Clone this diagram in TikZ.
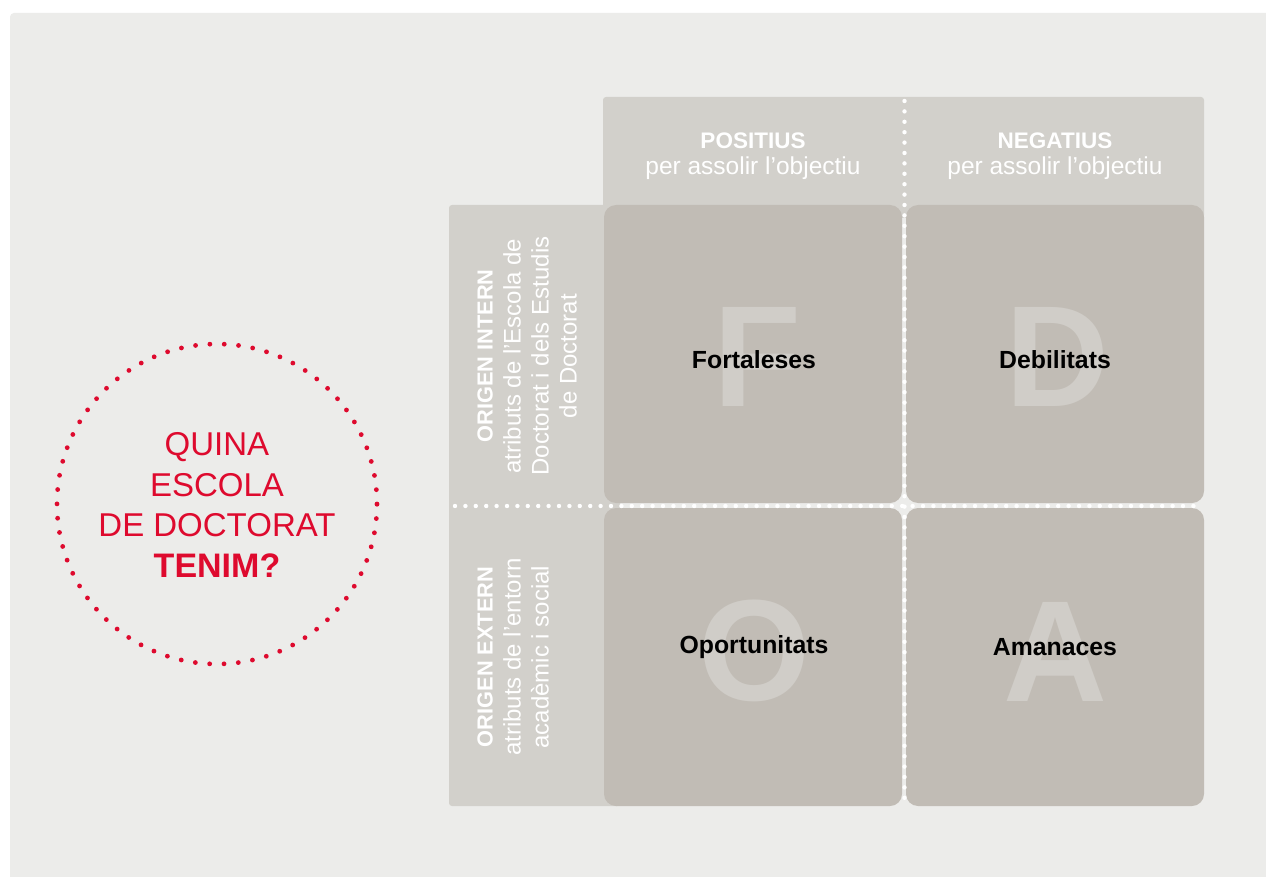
\documentclass[tikz,border=0pt]{standalone}
\usepackage{fontspec}
\setmainfont{Liberation Sans}
\definecolor{pagebg}{HTML}{ECECEA}
\definecolor{bandc}{HTML}{D2D0CB}
\definecolor{quadc}{HTML}{C1BCB5}
\definecolor{letterc}{HTML}{D0CDC8}
\definecolor{redc}{HTML}{DE0A2E}
\tikzset{
  bandfill/.style={fill=bandc, rounded corners=3pt},
  quad/.style={rectangle, fill=quadc, rounded corners=12pt, minimum width=298pt, minimum height=298pt, inner sep=0pt, outer sep=0pt},
  bigletter/.style={inner sep=0pt, text=letterc, font=\fontsize{144}{144}\selectfont\bfseries},
  qlabel/.style={inner sep=0pt, text=black, font=\fontsize{24.8}{28}\selectfont\bfseries},
  hdr/.style={inner sep=0pt, align=center, text=white, font=\fontsize{24.5}{25.5}\selectfont},
  side/.style={inner sep=0pt, align=center, text=white, rotate=90, font=\fontsize{24}{28}\selectfont},
  dotline/.style={draw=white, line width=4.4pt, line cap=round, dash pattern=on 0pt off 10.4pt},
  reddots/.style={circle, draw=redc, line width=4.8pt, line cap=round, dash pattern=on 0pt off 14.36pt, minimum size=320pt, inner sep=0pt, outer sep=0pt},
  redtext/.style={inner sep=0pt, align=center, text=redc, font=\fontsize{33}{40.7}\selectfont}
}
\newcommand{\hdrb}[1]{{\fontsize{22.5}{25.5}\selectfont\bfseries #1}}
\newcommand{\sideb}[1]{{\fontsize{21.8}{28}\selectfont\bfseries #1}}
\begin{document}
\begin{tikzpicture}[x=1pt,y=-1pt]
\useasboundingbox (0,0) rectangle (1266,877);
\fill[white] (0,0) rectangle (1266,877);
\begin{scope}
\clip (0,0) rectangle (1266,877);
\fill[pagebg, rounded corners=4pt] (10,13) rectangle (1290,900);
\end{scope}
% light bands
\fill[bandfill] (603,97) rectangle (1204,218);
\fill[bandfill] (449,205) rectangle (620,806);
% quadrants
\node[quad] (F) at (753,354) {};
\node[quad] (D) at (1055,354) {};
\node[quad] (O) at (753,657) {};
\node[quad] (A) at (1055,657) {};
% big letters
\node[bigletter] (bF) at (757,357) {F};
\node[bigletter] (bD) at (1057,357) {D};
\node[bigletter] (bO) at (754,651) {O};
\node[bigletter] (bA) at (1055,652) {A};
% labels
\node[qlabel] (lF) at (754,360) {Fortaleses};
\node[qlabel] (lD) at (1055,360) {Debilitats};
\node[qlabel] (lO) at (754,647) {Oportunitats};
\node[qlabel] (lA) at (1055,647) {Amanaces};
% headers
\node[hdr] (pos) at (753,156) {\hdrb{POSITIUS}\\per assolir l’objectiu};
\node[hdr] (neg) at (1055,156) {\hdrb{NEGATIUS}\\per assolir l’objectiu};
% side labels
\node[side] (intern) at (527,356) {\sideb{ORIGEN INTERN}\\atributs de l’Escola de\\Doctorat i dels Estudis\\de Doctorat};
\node[side] (extern) at (513,657) {\sideb{ORIGEN EXTERN}\\atributs de l’entorn\\acadèmic i social};
% dotted lines
\coordinate (vtop) at (904.5,101);
\coordinate (vbot) at (904.5,801);
\coordinate (hleft) at (455,506);
\coordinate (hright) at (1195,506);
\draw[dotline] (vtop) -- (vbot);
\draw[dotline] (hleft) -- (hright);
% circle
\node[reddots] (circ) at (217,504) {};
\node[redtext] (question) at (217,505) {QUINA\\ESCOLA\\DE DOCTORAT\\{\fontsize{34}{40.7}\selectfont\bfseries TENIM?}};
\end{tikzpicture}
\end{document}
